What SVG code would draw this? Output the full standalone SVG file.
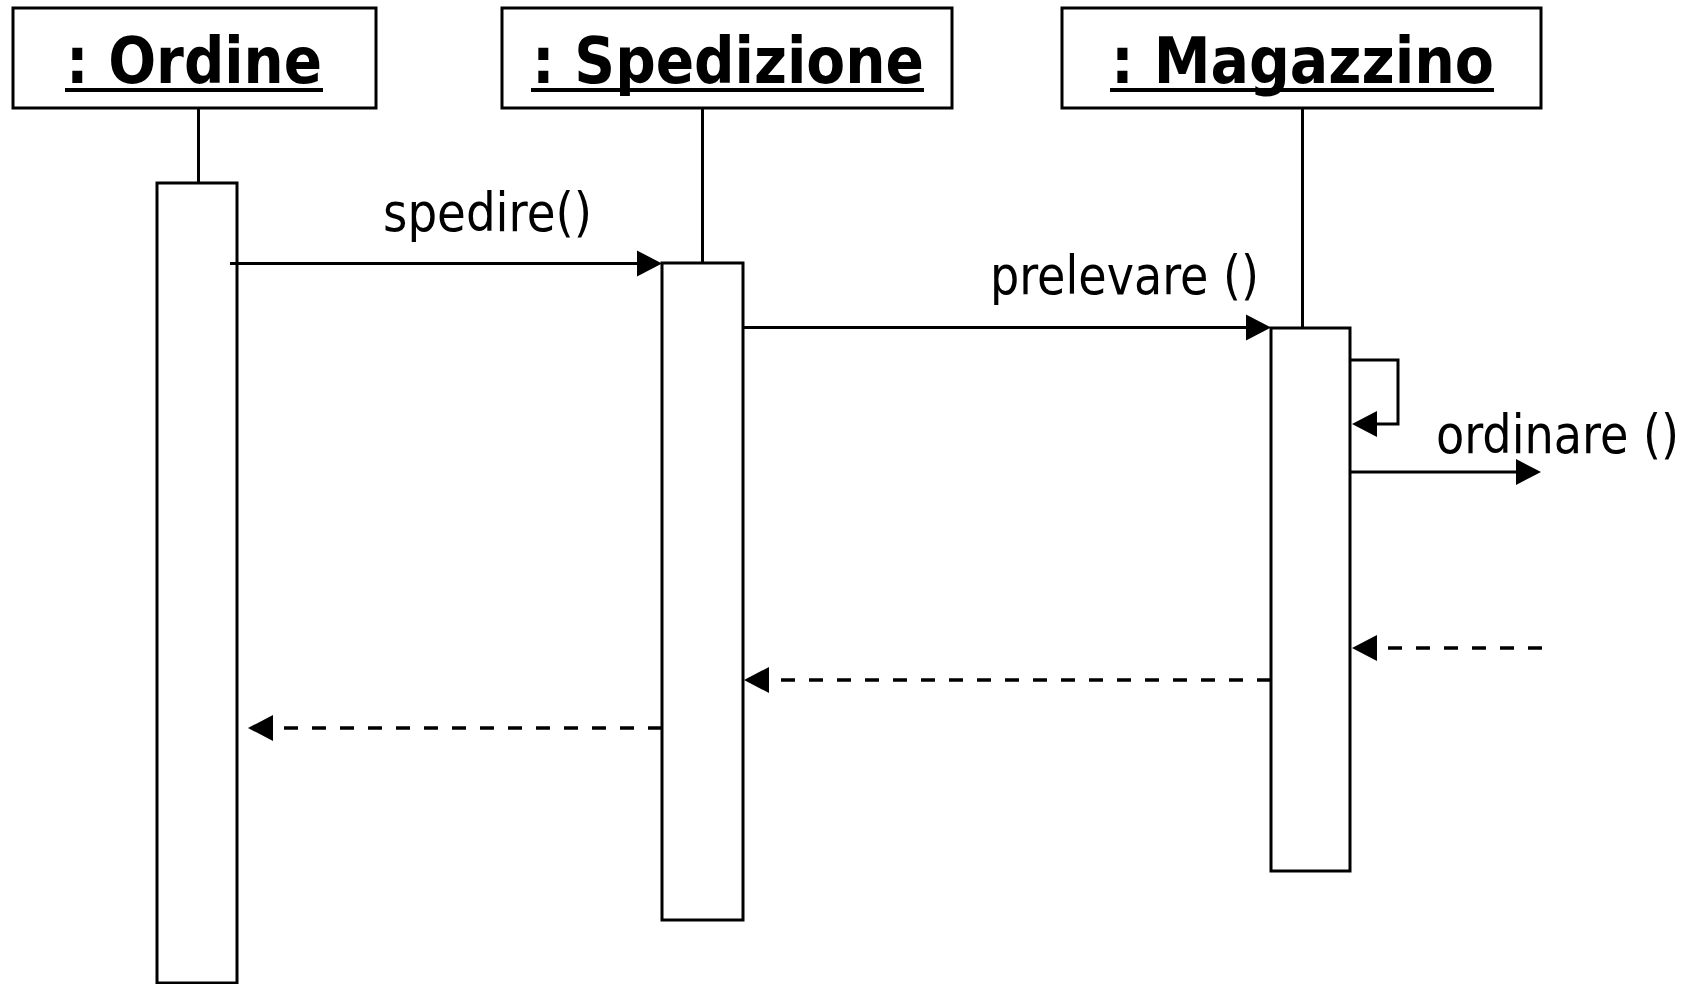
<svg xmlns="http://www.w3.org/2000/svg" width="1693" height="984" viewBox="0 0 1693 984">
  <style>
    .box { fill: #ffffff; stroke: #000000; stroke-width: 3; }
    .life { stroke: #000000; stroke-width: 3; fill: none; }
    .title { font-family: "DejaVu Sans Condensed", "DejaVu Sans", "Liberation Sans", sans-serif; font-stretch: condensed; font-weight: bold; font-size: 64px; fill: #000000; }
    .uline { stroke: #000000; stroke-width: 4; }
    .label { font-family: "DejaVu Sans Condensed", "DejaVu Sans", "Liberation Sans", sans-serif; font-stretch: condensed; font-size: 53px; fill: #000000; }
    .msg { stroke: #000000; stroke-width: 3; fill: none; }
    .ret { stroke: #000000; stroke-width: 3.5; fill: none; stroke-dasharray: 14 14; }
  </style>
  <defs>
    <marker id="head" markerUnits="userSpaceOnUse" markerWidth="26" markerHeight="28" viewBox="0 -14 26 28" refX="0" refY="0" orient="auto">
      <path d="M0,-13 L25,0 L0,13 Z" fill="#000000"/>
    </marker>
  </defs>

  <rect width="1693" height="984" fill="#ffffff"/>

  <!-- object :Ordine -->
  <g id="ordine">
    <rect class="box" x="13" y="8" width="363" height="100"/>
    <text class="title" x="66" y="83" textLength="256" lengthAdjust="spacingAndGlyphs">: Ordine</text>
    <line class="uline" x1="65" y1="90" x2="323" y2="90"/>
    <line class="life" x1="198.5" y1="108" x2="198.5" y2="183"/>
    <rect class="box" x="157" y="183" width="80" height="800"/>
  </g>

  <!-- object :Spedizione -->
  <g id="spedizione">
    <rect class="box" x="502" y="8" width="450" height="100"/>
    <text class="title" x="532" y="83" textLength="392" lengthAdjust="spacingAndGlyphs">: Spedizione</text>
    <line class="uline" x1="531" y1="90" x2="924" y2="90"/>
    <line class="life" x1="702.5" y1="108" x2="702.5" y2="263"/>
    <rect class="box" x="662" y="263" width="81" height="657"/>
  </g>

  <!-- object :Magazzino -->
  <g id="magazzino">
    <rect class="box" x="1062" y="8" width="479" height="100"/>
    <text class="title" x="1111" y="83" textLength="383" lengthAdjust="spacingAndGlyphs">: Magazzino</text>
    <line class="uline" x1="1110" y1="90" x2="1494" y2="90"/>
    <line class="life" x1="1302.5" y1="108" x2="1302.5" y2="328"/>
    <rect class="box" x="1271" y="328" width="79" height="543"/>
  </g>

  <!-- messages -->
  <g id="connectors">
    <line class="msg" x1="230" y1="263.5" x2="637" y2="263.5" marker-end="url(#head)"/>
    <line class="msg" x1="743" y1="327.5" x2="1246" y2="327.5" marker-end="url(#head)"/>
    <polyline class="msg" points="1351,360 1398,360 1398,424 1377,424" marker-end="url(#head)"/>
    <line class="msg" x1="1351" y1="472" x2="1516" y2="472" marker-end="url(#head)"/>
    <line class="ret" x1="1542" y1="648" x2="1377" y2="648" marker-end="url(#head)"/>
    <line class="ret" x1="1271" y1="680" x2="769" y2="680" marker-end="url(#head)"/>
    <line class="ret" x1="662" y1="728" x2="273" y2="728" marker-end="url(#head)"/>
  </g>

  <!-- message labels -->
  <g id="labels">
    <text class="label" x="383" y="231" textLength="209" lengthAdjust="spacingAndGlyphs">spedire()</text>
    <text class="label" x="990" y="294" textLength="269" lengthAdjust="spacingAndGlyphs">prelevare ()</text>
    <text class="label" x="1436" y="453" textLength="243" lengthAdjust="spacingAndGlyphs">ordinare ()</text>
  </g>
</svg>
